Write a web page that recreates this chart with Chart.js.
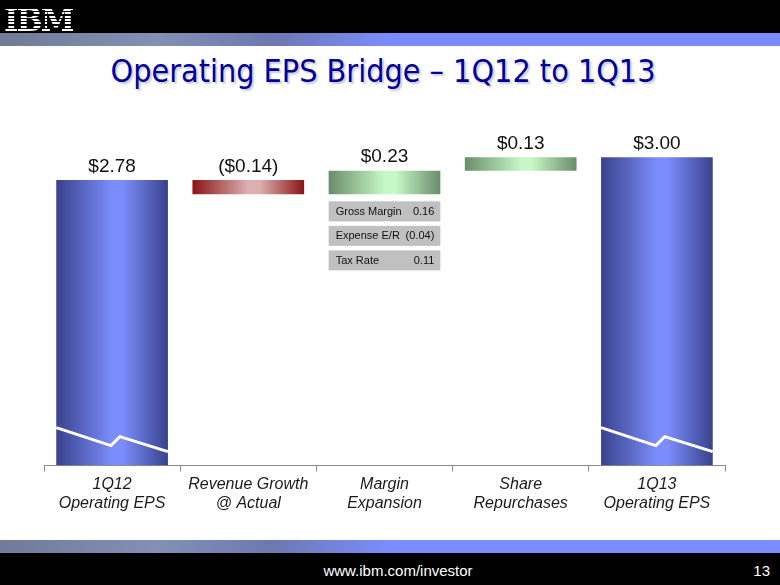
<!DOCTYPE html>
<html>
<head>
<meta charset="utf-8">
<script src="https://cdn.jsdelivr.net/npm/chart.js@4.4.1/dist/chart.umd.min.js"></script>
<style>
  body { margin: 0; width: 780px; height: 585px; overflow: hidden; background: #fff; font-family: "Liberation Sans", Arial, sans-serif; }
  #page { position: relative; width: 780px; height: 585px; }
  .top { position: absolute; left: 0; top: 0; width: 780px; height: 33px; background: #000; }
  .logo { position: absolute; left: 4px; top: 2px; font: bold 31px "DejaVu Serif", serif; letter-spacing: -2px;
    background: repeating-linear-gradient(180deg, #fff 0 2px, #000 2px 3.4px); -webkit-background-clip: text; background-clip: text; color: transparent; }
  .band { position: absolute; left: 0; width: 780px; height: 13px;
    background: linear-gradient(90deg, #6f7b98 0%, #8390b4 20%, #6c79b0 35%, #7b8cff 50%, #7b8cff 100%); }
  .bottom { position: absolute; left: 0; top: 553px; width: 780px; height: 32px; background: #000; color: #fff; }
  .url { position: absolute; left: 0; width: 796px; top: 9px; text-align: center; font: 15px "Liberation Sans", sans-serif; }
  .pgnum { position: absolute; right: 10px; top: 9px; font: 15px "Liberation Sans", sans-serif; }
  .title { position: absolute; left: 0; width: 766px; top: 52px; text-align: center; color: #000099;
    font: 32px "DejaVu Sans Condensed", "DejaVu Sans", sans-serif; text-shadow: 2px 2px 2px #c8c8d8; }
  canvas { position: absolute; left: 0; top: 0; }
</style>
</head>
<body>
<div id="page">
  <div class="top"><div class="logo">IBM</div></div>
  <div class="band" style="top:33px"></div>
  <div class="title">Operating EPS Bridge – 1Q12 to 1Q13</div>
  <div class="band" style="top:540px"></div>
  <div class="bottom"><div class="url">www.ibm.com/investor</div><div class="pgnum">13</div></div>
  <canvas id="barCanvas" width="780" height="585"></canvas>
</div>
<script>
const categories = [["1Q12", "Operating EPS"], ["Revenue Growth", "@ Actual"], ["Margin", "Expansion"], ["Share", "Repurchases"], ["1Q13", "Operating EPS"]]
const startEps = 2.78
const changes = [-0.14, 0.23, 0.13]
const endEps = 3.00
const marginItems = ["Gross Margin", "Expense E/R", "Tax Rate"]
const marginValues = [0.16, -0.04, 0.11]

// floating bars for the bridge
const bars = [[0, startEps]]
const shown = [startEps]
let level = startEps
changes.forEach(c => {
    const next = Math.round((level + c) * 100) / 100
    bars.push([Math.min(level, next), Math.max(level, next)])
    shown.push(c)
    level = next
})
bars.push([0, endEps])
shown.push(endEps)

const money = v => v < 0 ? "($" + Math.abs(v).toFixed(2) + ")" : "$" + v.toFixed(2)
const num = v => v < 0 ? "(" + Math.abs(v).toFixed(2) + ")" : v.toFixed(2)

function barColor(context) {
    const chart = context.chart
    const area = chart.chartArea
    const i = context.dataIndex
    const v = shown[i]
    let edge = "#38428c", mid = "#7b8cfb"
    if (i > 0 && i < shown.length - 1) {
        if (v < 0) { edge = "#8a1414"; mid = "#dcb0b0" } else { edge = "#6a8d6a"; mid = "#c6f7c6" }
    }
    if (!area || !chart.scales.x) return mid
    const x = chart.scales.x.getPixelForValue(i)
    const w = chart.scales.x.width / categories.length * 0.82 / 2
    const g = chart.ctx.createLinearGradient(x - w, 0, x + w, 0)
    g.addColorStop(0, edge)
    g.addColorStop(0.5, mid)
    g.addColorStop(0.6, mid)
    g.addColorStop(1, edge)
    return g
}

const extras = {
    id: "extras",
    afterDatasetsDraw(chart) {
        const ctx = chart.ctx
        const meta = chart.getDatasetMeta(0)
        ctx.save()
        // value labels
        ctx.font = "19px 'Liberation Sans', sans-serif"
        ctx.fillStyle = "#111"
        ctx.textAlign = "center"
        ctx.textBaseline = "bottom"
        meta.data.forEach((bar, i) => {
            ctx.fillText(money(shown[i]), bar.x, bar.y - 4)
        })
        // axis-break squiggle on the totals
        ctx.strokeStyle = "#fff"
        ctx.lineWidth = 3
        ;[0, meta.data.length - 1].forEach(i => {
            const b = meta.data[i]
            const l = b.x - b.width / 2, w = b.width, bt = b.base
            ctx.beginPath()
            ctx.moveTo(l, bt - 38)
            ctx.lineTo(l + w * 0.49, bt - 20)
            ctx.lineTo(l + w * 0.57, bt - 29)
            ctx.lineTo(l + w, bt - 14)
            ctx.stroke()
        })
        // margin breakdown boxes
        const m = meta.data[2]
        const left = m.x - m.width / 2
        ctx.font = "11px 'Liberation Sans', sans-serif"
        ctx.textBaseline = "middle"
        marginItems.forEach((name, k) => {
            const top = m.base + 7 + k * 24.5
            ctx.fillStyle = "#c0c0c0"
            ctx.fillRect(left, top, m.width, 20)
            ctx.fillStyle = "#111"
            ctx.textAlign = "left"
            ctx.fillText(name, left + 7, top + 10.5)
            ctx.textAlign = "right"
            ctx.fillText(num(marginValues[k]), left + m.width - 6, top + 10.5)
        })
        ctx.restore()
    }
}

const barChart = new Chart(document.getElementById("barCanvas"), {
    type: "bar",
    data: {
        labels: categories,
        datasets: [{
            data: bars,
            backgroundColor: barColor,
            borderWidth: 0,
            borderSkipped: false,
            barPercentage: 0.82,
            categoryPercentage: 1
        }]
    },
    options: {
        responsive: false,
        animation: false,
        layout: { padding: { left: 44, right: 55, top: 106, bottom: 69 } },
        plugins: { legend: { display: false }, tooltip: { enabled: false } },
        scales: {
            x: {
                grid: { display: true, drawOnChartArea: false, drawTicks: true, tickLength: 6, color: "#8c8c8c", offset: true },
                border: { display: true, color: "#8c8c8c" },
                ticks: { color: "#1a1a1a", padding: 3, font: { size: 16, style: "italic", family: "'Liberation Sans', sans-serif" } }
            },
            y: { display: false, min: 0, max: 3.5 }
        }
    },
    plugins: [extras]
})
</script>
</body>
</html>
